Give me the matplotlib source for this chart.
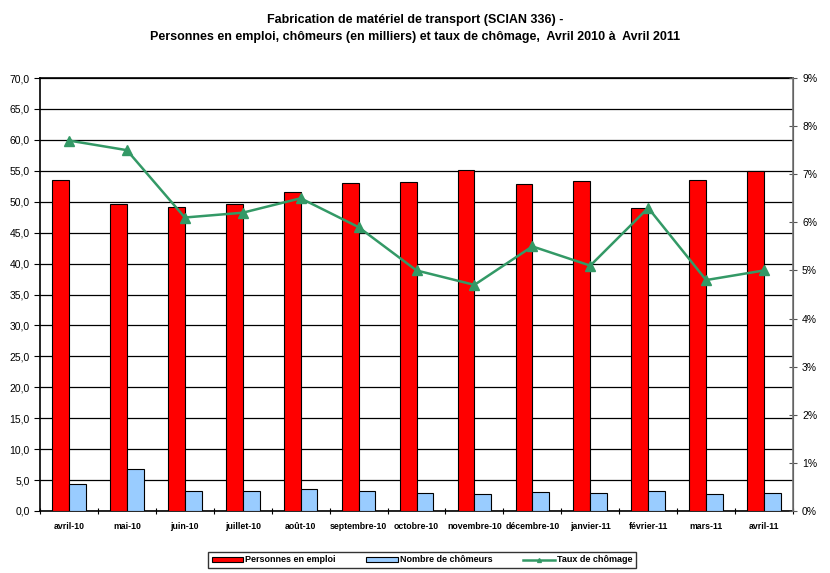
import numpy as np
import matplotlib.pyplot as plt
from matplotlib.ticker import FuncFormatter, MultipleLocator

plt.rcParams['font.family'] = ['Liberation Sans', 'DejaVu Sans']

# data
mois = ["avril-10", "mai-10", "juin-10", "juillet-10", "août-10", "septembre-10",
        "octobre-10", "novembre-10", "décembre-10", "janvier-11", "février-11",
        "mars-11", "avril-11"]
emploi = [53.5, 49.6, 49.1, 49.6, 51.6, 53.0, 53.2, 55.1, 52.9, 53.3, 49.0, 53.5, 55.0]
chomeurs = [4.4, 6.8, 3.2, 3.2, 3.6, 3.2, 2.9, 2.7, 3.1, 2.9, 3.2, 2.7, 2.9]
taux = [7.7, 7.5, 6.1, 6.2, 6.5, 5.9, 5.0, 4.7, 5.5, 5.1, 6.3, 4.8, 5.0]

fig = plt.figure(figsize=(8.3, 5.73), dpi=100)
ax = fig.add_axes([40 / 830, 62 / 573, 753 / 830, 433 / 573])
ax2 = ax.twinx()

x = np.arange(len(mois))
w = 0.29
b1 = ax.bar(x - w / 2, emploi, w, color="#ff0000", edgecolor="black", linewidth=0.8,
            label="Personnes en emploi", zorder=3)
b2 = ax.bar(x + w / 2, chomeurs, w, color="#99ccff", edgecolor="black", linewidth=0.8,
            label="Nombre de chômeurs", zorder=3)

ax.set_xlim(-0.5, len(mois) - 0.5)
ax.set_ylim(0, 70)
ax.yaxis.set_major_locator(MultipleLocator(5))
ax.yaxis.set_major_formatter(FuncFormatter(lambda v, p: f"{v:.1f}".replace(".", ",")))
ax.grid(axis="y", color="black", linewidth=0.9, zorder=0)
ax.set_axisbelow(True)

ax.set_xticks(x)
ax.set_xticklabels(mois, fontsize=6.3, fontweight="bold")
ax.set_xticks(np.arange(-0.5, len(mois)), minor=True)
ax.tick_params(axis="x", which="major", length=0, pad=8)
ax.tick_params(axis="x", which="minor", length=4, direction="inout", width=0.8)
ax.tick_params(axis="y", labelsize=7.5, length=4, width=0.8)

(l1,) = ax2.plot(x, taux, color="#339966", linewidth=1.8, marker="^", markersize=7,
                 label="Taux de chômage", zorder=4)
ax2.set_ylim(0, 9)
ax2.yaxis.set_major_locator(MultipleLocator(1))
ax2.yaxis.set_major_formatter(FuncFormatter(lambda v, p: f"{v:.0f}%"))
ax2.tick_params(axis="y", labelsize=7.5, length=6, direction="inout", width=0.8, colors="#555555")
ax2.tick_params(axis="y", labelcolor="black")
ax2.spines["right"].set_color("#777777")
ax2.spines["right"].set_linewidth(1.2)
for s in ["left", "top", "bottom"]:
    ax.spines[s].set_linewidth(1.2)
    ax2.spines[s].set_visible(False)

fig.text(0.5, 1 - 20 / 573, "Fabrication de matériel de transport (SCIAN 336) -",
         ha="center", va="center", fontsize=9, fontweight="bold")
fig.text(0.5, 1 - 37 / 573,
         "Personnes en emploi, chômeurs (en milliers) et taux de chômage,  Avril 2010 à  Avril 2011",
         ha="center", va="center", fontsize=9, fontweight="bold")

leg = fig.legend(handles=[b1, b2, l1], loc="lower left", ncol=3,
                 bbox_to_anchor=(208 / 830, 5 / 573, 428 / 830, 20 / 573), mode="expand",
                 prop={"size": 6.5, "weight": "bold"}, frameon=True, fancybox=False,
                 edgecolor="black", handlelength=3.5, handleheight=0.5,
                 handletextpad=0.2, borderpad=0.4, borderaxespad=0, markerscale=0.4)
leg.get_frame().set_linewidth(1.0)
# push the entries right inside each column, like the original
leg._legend_box.align = "center"
for col in leg._legend_handle_box.get_children():
    col.align = "right"

fig.savefig("out.png", dpi=100)
